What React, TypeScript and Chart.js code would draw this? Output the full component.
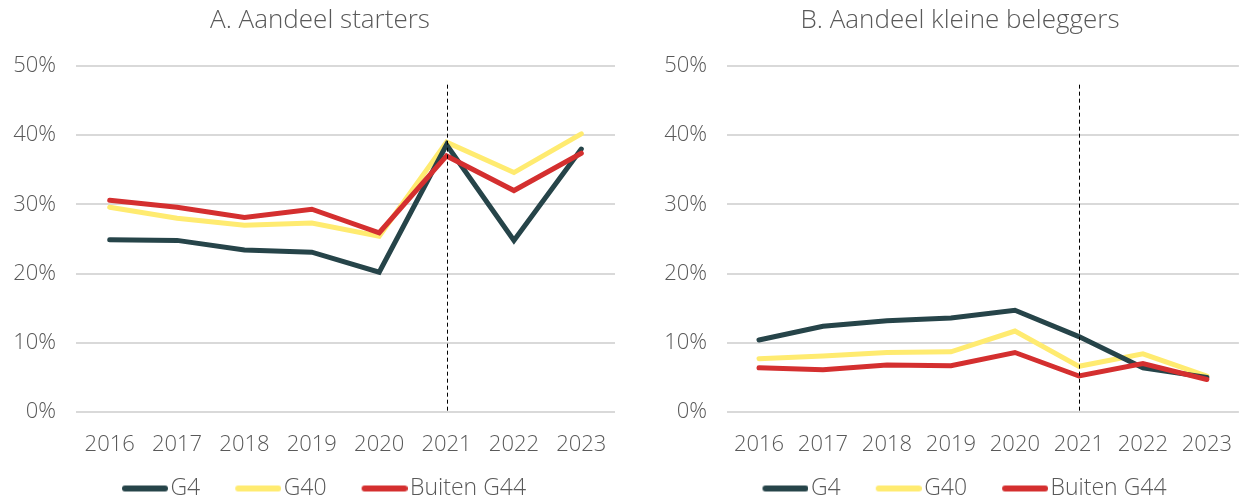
import React, { useEffect, useRef } from "react";
import { Chart, registerables } from "chart.js";

Chart.register(...registerables);

const years = ["2016", "2017", "2018", "2019", "2020", "2021", "2022", "2023"];
const seriesNames = ["G4", "G40", "Buiten G44"];
const seriesColors = ["#264449", "#FFEB70", "#D42F2F"];

const startersG4 = [24.9, 24.8, 23.4, 23.1, 20.2, 38.6, 24.8, 38.0];
const startersG40 = [29.6, 28.0, 27.0, 27.3, 25.4, 39.0, 34.6, 40.2];
const startersBuiten = [30.6, 29.6, 28.1, 29.3, 25.9, 37.0, 32.0, 37.4];

const kleinG4 = [10.4, 12.4, 13.2, 13.6, 14.7, 10.9, 6.4, 5.0];
const kleinG40 = [7.7, 8.1, 8.6, 8.7, 11.7, 6.6, 8.4, 5.2];
const kleinBuiten = [6.4, 6.1, 6.8, 6.7, 8.6, 5.2, 7.0, 4.7];

const yTicks = [0, 10, 20, 30, 40, 50];
const markerYear = "2021";
const markerTop = 47.3;

const FONT = "'Open Sans', 'Noto Sans', sans-serif";
const TEXT = "#595959";
const LEGEND_W = 46;
const LEGEND_SHIFT = 9;

function legendLine(color: string) {
  const c = document.createElement("canvas");
  c.width = LEGEND_W + LEGEND_SHIFT * 2;
  c.height = 8;
  const ctx = c.getContext("2d") as CanvasRenderingContext2D;
  ctx.strokeStyle = color;
  ctx.lineWidth = 6;
  ctx.lineCap = "round";
  ctx.beginPath();
  ctx.moveTo(LEGEND_SHIFT * 2 + 3, 4);
  ctx.lineTo(LEGEND_SHIFT * 2 + LEGEND_W - 3, 4);
  ctx.stroke();
  return c;
}

const dashedMarker = {
  id: "dashedMarker",
  afterDatasetsDraw(chart: any) {
    const xs = chart.scales.x;
    const ys = chart.scales.y;
    const idx = years.indexOf(markerYear);
    const x = Math.round(xs.getPixelForValue(idx)) + 0.5;
    const ctx = chart.ctx;
    ctx.save();
    ctx.strokeStyle = "#000000";
    ctx.lineWidth = 1;
    ctx.setLineDash([4, 3]);
    ctx.beginPath();
    ctx.moveTo(x, ys.getPixelForValue(markerTop));
    ctx.lineTo(x, ys.getPixelForValue(0));
    ctx.stroke();
    ctx.restore();
  },
};

function LineChart({
  title,
  data,
  yWidth,
  rightPad,
  titleX,
  legendShift,
}: {
  title: string;
  data: number[][];
  yWidth: number;
  rightPad: number;
  titleX: number;
  legendShift: number;
}) {
  const ref = useRef<HTMLCanvasElement>(null);
  useEffect(() => {
    const orders = [1, 2, 0];
    const titlePlugin = {
      id: "centeredTitle",
      afterDraw(chart: any) {
        const ctx = chart.ctx;
        ctx.save();
        ctx.fillStyle = TEXT;
        ctx.font = `300 26px ${FONT}`;
        ctx.textAlign = "center";
        ctx.textBaseline = "middle";
        ctx.fillText(title, titleX, 21);
        ctx.restore();
      },
    };
    const legendOffset = {
      id: "legendOffset",
      afterLayout(chart: any) {
        const lg = chart.legend;
        if (lg) {
          lg.left += legendShift;
          lg.right += legendShift;
          lg.top -= 9;
          lg.height += 9;
        }
      },
    };
    const chart = new Chart(ref.current as HTMLCanvasElement, {
      type: "line",
      data: {
        labels: years,
        datasets: seriesNames.map((name, i) => ({
          label: name,
          data: data[i],
          borderColor: seriesColors[i],
          backgroundColor: seriesColors[i],
          borderWidth: 5,
          borderCapStyle: "round" as const,
          borderJoinStyle: "miter" as const,
          pointRadius: 0,
          pointStyle: legendLine(seriesColors[i]) as any,
          tension: 0,
          order: orders[i],
        })),
      },
      options: {
        animation: false,
        responsive: false,
        maintainAspectRatio: false,
        layout: { padding: { left: 0, right: rightPad, top: 66, bottom: 0 } },
        plugins: {
          tooltip: { enabled: false },
          title: { display: false },
          legend: {
            position: "bottom",
            maxHeight: 39,
            labels: {
              usePointStyle: true,
              pointStyleWidth: LEGEND_W,
              boxHeight: 8,
              color: TEXT,
              font: { family: FONT, size: 23, weight: 300 as any },
              padding: 26,
              sort: (a: any, b: any) => a.datasetIndex - b.datasetIndex,
            },
          },
        },
        scales: {
          x: {
            offset: true,
            grid: { display: false },
            border: { display: false },
            ticks: {
              color: TEXT,
              font: { family: FONT, size: 22, weight: 300 as any },
              padding: 12,
              maxRotation: 0,
              autoSkip: false,
            },
            afterFit: (s: any) => {
              s.height = 48;
            },
          },
          y: {
            min: 0,
            max: 50,
            afterBuildTicks: (s: any) => {
              s.ticks = yTicks.map((v) => ({ value: v }));
            },
            grid: { color: "#D9D9D9", lineWidth: 2, drawTicks: false },
            border: { display: false },
            ticks: {
              color: TEXT,
              font: { family: FONT, size: 22, weight: 300 as any },
              padding: 20,
              callback: (v: any) => v + "%",
            },
            afterFit: (s: any) => {
              s.width = yWidth;
            },
          },
        },
      },
      plugins: [dashedMarker, titlePlugin, legendOffset],
    });
    return () => chart.destroy();
  }, []);
  return <canvas ref={ref} width={622} height={499} style={{ display: "block", width: 622, height: 499 }} />;
}

export default function App() {
  return (
    <div style={{ position: "absolute", left: 0, top: 0, width: 1244, height: 499, background: "#fff" }}>
      <div style={{ position: "absolute", left: 0, top: 0 }}>
        <LineChart
          title="A. Aandeel starters"
          data={[startersG4, startersG40, startersBuiten]}
          yWidth={76}
          rightPad={7}
          titleX={320}
          legendShift={12}
        />
      </div>
      <div style={{ position: "absolute", left: 622, top: 0 }}>
        <LineChart
          title="B. Aandeel kleine beleggers"
          data={[kleinG4, kleinG40, kleinBuiten]}
          yWidth={105}
          rightPad={0}
          titleX={338}
          legendShift={27}
        />
      </div>
    </div>
  );
}
